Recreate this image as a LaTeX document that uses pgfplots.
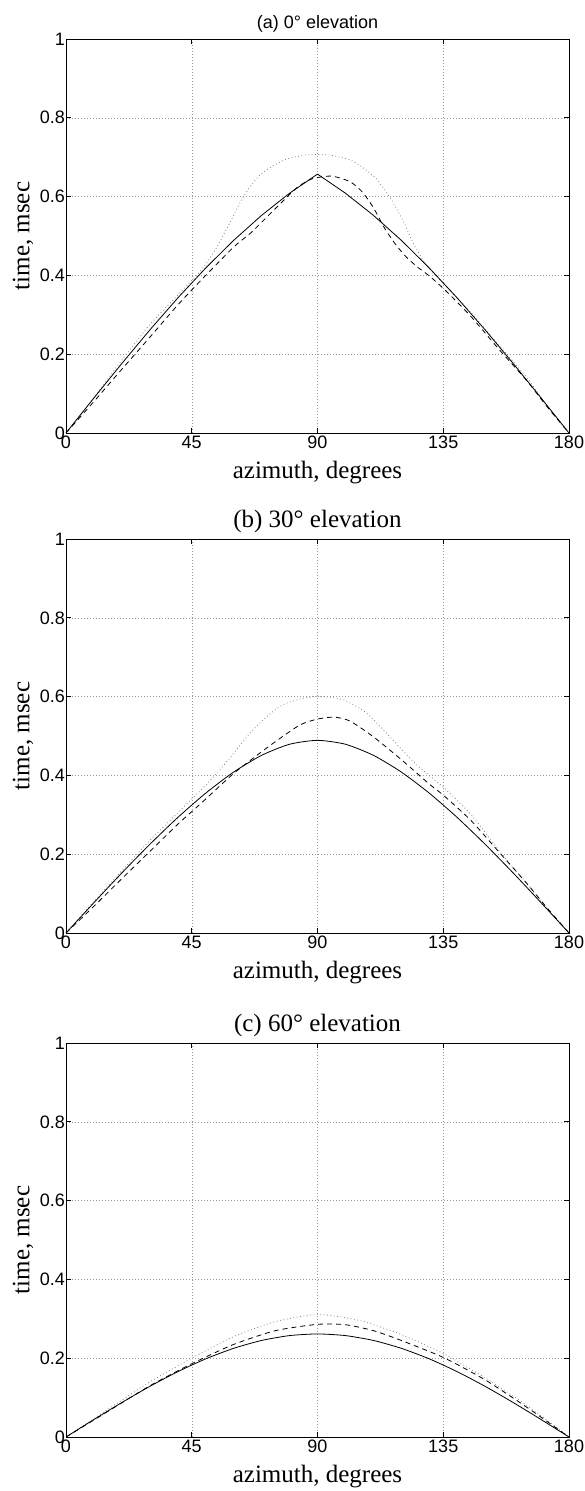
\documentclass[border=0pt]{standalone}
\usepackage{fontspec}
\setmainfont{Liberation Serif}
\newfontfamily\sansf{Liberation Sans}
\usepackage{pgfplots}
\pgfplotsset{compat=1.18}

% common look of the three panels (matlab style)
\pgfplotsset{
  panel/.style={
    width=503pt, height=394pt, scale only axis,
    xmin=0, xmax=180, ymin=0, ymax=1,
    xtick={0,45,90,135,180}, xticklabels={0,45,90,135,180},
    ytick={0,0.2,0.4,0.6,0.8,1}, yticklabels={0,0.2,0.4,0.6,0.8,1},
    grid=major, grid style={gray!80, line width=0.5pt, dash pattern=on 0.6pt off 2.4pt},
    axis line style={line width=0.9pt},
    major tick length=5pt, tick style={black, line width=0.7pt},
    tick label style={font=\sansf\fontsize{18}{18}\selectfont},
    /pgf/number format/assume math mode=true,
    xticklabel style={inner sep=1pt, yshift=-2pt},
    yticklabel style={inner sep=1pt},
    label style={font=\fontsize{25}{25}\selectfont},
    xlabel={azimuth, degrees}, ylabel={time, msec},
    xlabel style={yshift=-8pt},
    ylabel style={yshift=2pt},
  },
  solidc/.style={black, line width=0.8pt},
  dashc/.style={black, line width=0.8pt, dash pattern=on 5pt off 4pt, smooth, tension=0.4},
  dotc/.style={gray, line width=0.8pt, dash pattern=on 0.8pt off 2.6pt, smooth, tension=0.4},
}

\begin{document}
\begin{tikzpicture}
\path[use as bounding box] (-66pt,-1058pt) rectangle (519pt,433pt);

% (a) 0 deg elevation
\begin{axis}[panel, at={(0pt,0pt)}, anchor=south west,
  title={(a) 0° elevation},
  title style={font=\sansf\fontsize{18}{18}\selectfont, yshift=-3pt}]
\addplot[dotc] coordinates {
  (0,0) (10,0.09) (20,0.185) (30,0.275) (40,0.35) (48,0.41) (53,0.46)
  (58,0.525) (63.5,0.60) (69.4,0.655) (77.8,0.692) (85,0.705) (90,0.707)
  (95,0.705) (101.6,0.693) (106,0.675) (111.1,0.645) (115.9,0.598)
  (120.7,0.538) (124.3,0.481) (129.1,0.425) (135,0.38) (145,0.305)
  (155,0.222) (165,0.14) (172,0.07) (180,0)
};
\addplot[dashc] coordinates {
  (0,0) (10,0.08) (20,0.162) (30,0.243) (40,0.325) (45,0.363) (50,0.40)
  (60,0.472) (66,0.507) (70,0.535) (75,0.57) (82.5,0.622) (88,0.645)
  (95,0.652) (101.6,0.638) (106,0.612) (110,0.572) (114,0.52)
  (118,0.478) (122,0.445) (126,0.42) (130.3,0.397) (136.2,0.359) (145,0.295)
  (155,0.212) (165,0.132) (172,0.068) (180,0)
};
\addplot[solidc] coordinates {
  (0,0) (10,0.0890) (20,0.1766) (30,0.2616) (40,0.3427) (50,0.4188)
  (60,0.4890) (70,0.5525) (80,0.6086) (90,0.6571) (100,0.6086)
  (110,0.5525) (120,0.4890) (130,0.4188) (140,0.3427) (150,0.2616)
  (160,0.1766) (170,0.0890) (180,0)
};
\end{axis}

% (b) 30 deg elevation
\begin{axis}[panel, at={(0pt,-500pt)}, anchor=south west,
  title={(b) 30° elevation},
  title style={font=\fontsize{25}{25}\selectfont, yshift=-3pt}]
\addplot[dotc] coordinates {
  (0,0) (10,0.08) (20,0.158) (30,0.235) (40,0.305) (45,0.34) (50,0.375)
  (57,0.43) (65.8,0.507) (72,0.55) (77.8,0.580) (85,0.596) (90,0.600)
  (95,0.598) (100,0.59) (107.6,0.558) (115.9,0.498) (125,0.43)
  (135,0.37) (145,0.30) (156,0.20) (165,0.125) (172,0.063) (180,0)
};
\addplot[dashc] coordinates {
  (0,0) (10,0.068) (20,0.138) (30,0.207) (40,0.276) (45,0.308) (50,0.34)
  (60,0.405) (70,0.46) (75.4,0.488) (83.7,0.528) (90,0.543) (96,0.548)
  (101.6,0.538) (110,0.498) (120,0.44) (130,0.378) (135,0.35)
  (145,0.285) (155,0.205) (165,0.125) (172,0.065) (180,0)
};
\addplot[solidc, smooth, tension=0.4] coordinates {
  (0,0) (10,0.0770) (20,0.1526) (30,0.2251) (40,0.2932) (50,0.3550)
  (60,0.4085) (70,0.4510) (80,0.4791) (90,0.4890) (100,0.4791)
  (110,0.4510) (120,0.4085) (130,0.3550) (140,0.2932) (150,0.2251)
  (160,0.1526) (170,0.0770) (180,0)
};
\end{axis}

% (c) 60 deg elevation
\begin{axis}[panel, at={(0pt,-1004pt)}, anchor=south west,
  title={(c) 60° elevation},
  title style={font=\fontsize{25}{25}\selectfont, yshift=-3pt}]
\addplot[dotc] coordinates {
  (0,0) (15,0.07) (30,0.14) (45,0.20) (60,0.255) (75,0.293) (90,0.311)
  (105,0.296) (120,0.26) (135,0.212) (150,0.15) (165,0.08) (180,0)
};
\addplot[dashc] coordinates {
  (0,0) (15,0.065) (30,0.13) (45,0.186) (60,0.235) (75,0.27) (90,0.286)
  (100,0.285) (110,0.27) (120,0.245) (135,0.202) (150,0.145) (165,0.075)
  (180,0)
};
\addplot[solidc, smooth, tension=0.4] coordinates {
  (0,0) (10,0.0444) (20,0.0876) (30,0.1285) (40,0.1658) (50,0.1984)
  (60,0.2251) (70,0.2451) (80,0.2574) (90,0.2616) (100,0.2574)
  (110,0.2451) (120,0.2251) (130,0.1984) (140,0.1658) (150,0.1285)
  (160,0.0876) (170,0.0444) (180,0)
};
\end{axis}
\end{tikzpicture}
\end{document}
